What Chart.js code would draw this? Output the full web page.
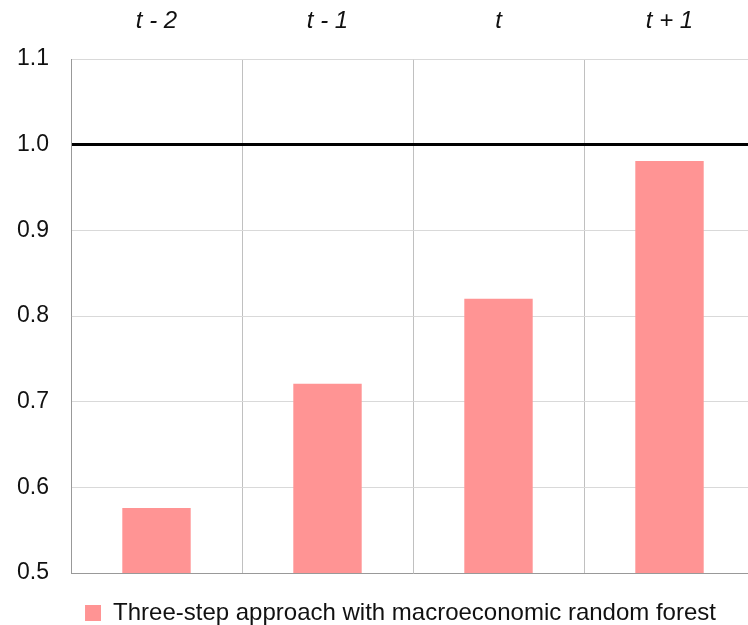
<!DOCTYPE html>
<html>
<head>
<meta charset="utf-8">
<script src="https://cdn.jsdelivr.net/npm/chart.js@4/dist/chart.umd.min.js"></script>
<style>
  html, body { margin: 0; padding: 0; background: #fff; overflow: hidden; }
  #wrap { width: 760px; height: 625px; }
</style>
</head>
<body>
<div id="wrap"><canvas id="c" width="760" height="625"></canvas></div>
<script>
// Horizon labels and the ratio for each horizon
const categories = ['t - 2', 't - 1', 't', 't + 1'];
const seriesName = 'Three-step approach with macroeconomic random forest';
const ratios = [0.576, 0.721, 0.820, 0.981];
const yTicks = [0.5, 0.6, 0.7, 0.8, 0.9, 1.0, 1.1];

const FONT = "'Liberation Sans', Arial, sans-serif";

// Nudges the legend sideways so it sits centred under the plot
const legendOffset = {
  id: 'legendOffset',
  afterLayout(chart, args, opts) {
    const lg = chart.legend;
    if (!lg) return;
    lg.left += opts.dx;
    lg.right += opts.dx;
  }
};

new Chart(document.getElementById('c'), {
  type: 'bar',
  data: {
    labels: categories,
    datasets: [{
      label: seriesName,
      data: ratios,
      backgroundColor: '#ff9494',
      borderWidth: 0,
      categoryPercentage: 1.0,
      barPercentage: 0.4
    }]
  },
  plugins: [legendOffset],
  options: {
    responsive: false,
    animation: false,
    devicePixelRatio: 1,
    layout: { padding: { left: 0, right: 5, top: 0, bottom: 0 } },
    plugins: {
      tooltip: { enabled: false },
      legendOffset: { dx: 23 },
      legend: {
        position: 'bottom',
        maxHeight: 52,
        labels: {
          boxWidth: 16,
          boxHeight: 16,
          padding: 28,
          color: '#111',
          font: { family: FONT, size: 24 }
        }
      }
    },
    scales: {
      x: {
        position: 'top',
        offset: true,
        grid: { display: true, offset: true, color: '#c0c0c0', lineWidth: 1, drawTicks: false },
        border: { display: false },
        ticks: {
          padding: 23,
          color: '#111',
          font: { family: FONT, size: 24, style: 'italic' }
        },
        afterFit: (s) => { s.height = 59; }
      },
      y: {
        min: yTicks[0],
        max: yTicks[yTicks.length - 1],
        afterBuildTicks: (s) => { s.ticks = yTicks.map(v => ({ value: v })); },
        grid: {
          drawTicks: false,
          color: (ctx) => {
            const v = ctx.tick && ctx.tick.value;
            if (Math.abs(v - 1.0) < 1e-9) return '#000000';
            if (Math.abs(v - 0.5) < 1e-9) return '#999999';
            return '#d9d9d9';
          },
          lineWidth: (ctx) => {
            const v = ctx.tick && ctx.tick.value;
            return Math.abs(v - 1.0) < 1e-9 ? 3 : 1;
          }
        },
        border: { display: true, color: '#999999', width: 1 },
        ticks: {
          padding: 22,
          color: '#111',
          font: { family: FONT, size: 23 },
          callback: (v) => Number(v).toFixed(1)
        },
        afterFit: (s) => { s.width = 71; }
      }
    }
  }
});
</script>
</body>
</html>
